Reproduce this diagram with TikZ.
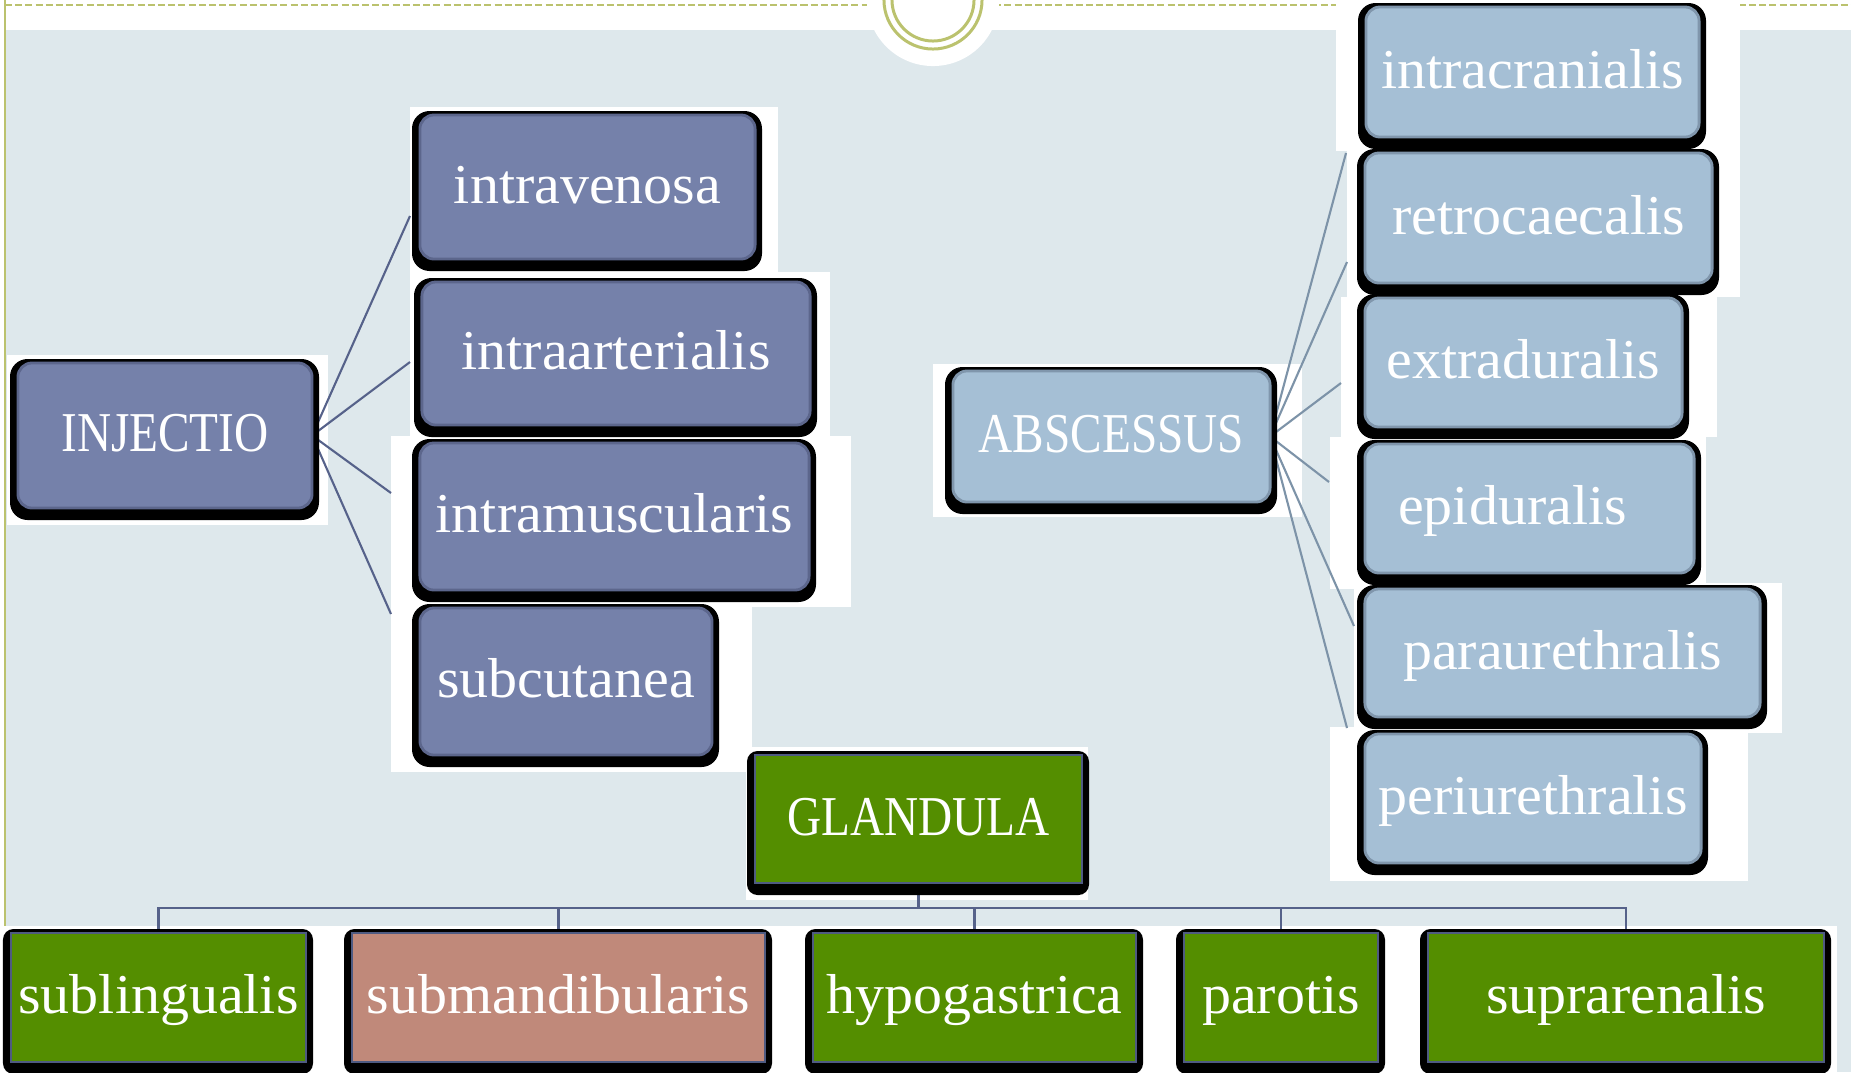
\documentclass[tikz,border=0pt]{standalone}
\usepackage{fontspec}
\setmainfont{Liberation Serif}[FakeStretch=1.03]
\newfontfamily\capsf{Liberation Serif}[FakeStretch=0.84]
\usetikzlibrary{calc}
\definecolor{bgblue}{RGB}{222,232,236}
\definecolor{olive}{RGB}{187,194,110}
\definecolor{slate}{RGB}{117,129,170}
\definecolor{slateedge}{RGB}{92,102,140}
\definecolor{pale}{RGB}{165,191,213}
\definecolor{paleedge}{RGB}{128,150,172}
\definecolor{leaf}{RGB}{84,142,0}
\definecolor{clay}{RGB}{192,137,122}
\definecolor{rim}{RGB}{79,91,130}
\definecolor{lineL}{RGB}{86,98,138}
\definecolor{lineR}{RGB}{125,147,168}
\pgfdeclarelayer{back}
\pgfdeclarelayer{wires}
\pgfsetlayers{back,wires,main}
\tikzset{
  boxtext/.style={inner sep=0pt, outer sep=0pt, text=white, anchor=center,
    font=\fontsize{16pt}{19pt}\selectfont, text height=9.1pt, text depth=0pt},
  slatebox/.style={boxtext, fill=slate, draw=slateedge, line width=0.8pt, rounded corners=4pt},
  palebox/.style={boxtext, fill=pale, draw=paleedge, line width=0.8pt, rounded corners=4pt},
  leafbox/.style={boxtext, fill=leaf, draw=rim, line width=0.6pt},
  claybox/.style={boxtext, fill=clay, draw=rim, line width=0.6pt},
  roundshadow/.style={fill=black, rounded corners=5pt},
  flatshadow/.style={fill=black, rounded corners=3pt},
  conL/.style={draw=lineL, line width=0.6pt},
  conR/.style={draw=lineR, line width=0.6pt},
  tree/.style={draw=lineL, line width=0.6pt},
  backdrop/.style={fill=white}
}
% name, box style, shadow style, x1, y1, x2, y2, text
\newcommand{\skbox}[8]{%
  \pgfmathsetmacro{\skw}{(#6-#4)/100}%
  \pgfmathsetmacro{\skh}{(#7-#5)/100}%
  \pgfmathsetmacro{\skx}{(#4+#6)/2}%
  \pgfmathsetmacro{\sky}{(#5+#7)/2}%
  \path[#3] ($(#4,#5)+(-8,-4)$) rectangle ($(#6,#7)+(7,12)$);
  \node[#2, minimum width=\skw cm, minimum height=\skh cm] (#1) at (\skx,\sky) {#8};
}
\begin{document}
\begin{tikzpicture}[x=0.01cm, y=-0.01cm]
\useasboundingbox (0,0) rectangle (1851,1072);

\begin{pgfonlayer}{back}
  % page background
  \fill[white] (0,0) rectangle (1851,1072);
  \fill[bgblue] (5,30) rectangle (1851,1072);
  % top dashed rule
  \draw[olive, line width=0.6pt, dash pattern=on 2pt off 0.9pt] (5,5) -- (1851,5);
  % circle ornament
  \fill[white] (933,0) circle[radius=0.66cm];
  \draw[olive, line width=0.85pt] (933,0) circle[radius=0.49cm];
  \draw[olive, line width=0.85pt] (933,0) circle[radius=0.41cm];
  % left rule
  \draw[olive, line width=0.6pt] (5,0) -- (5,926);
  % white backdrops
  \fill[backdrop] (7,355) rectangle (328,525);
  \fill[backdrop] (410,107) rectangle (778,272);
  \fill[backdrop] (410,272) rectangle (830,436);
  \fill[backdrop] (391,436) rectangle (851,607);
  \fill[backdrop] (391,602) rectangle (752,772);
  \fill[backdrop] (933,364) rectangle (1302,517);
  \fill[backdrop] (1336,0) rectangle (1740,151);
  \fill[backdrop] (1347,151) rectangle (1740,297);
  \fill[backdrop] (1341,297) rectangle (1717,437);
  \fill[backdrop] (1330,437) rectangle (1706,589);
  \fill[backdrop] (1354,583) rectangle (1782,733);
  \fill[backdrop] (1330,727) rectangle (1748,881);
  \fill[backdrop] (746,747) rectangle (1088,900);
  \fill[backdrop] (0,926) rectangle (1837,1072);
\end{pgfonlayer}

% boxes
\skbox{inj}{slatebox}{roundshadow}{18}{363}{312}{508}{\capsf INJECTIO}
\skbox{iv}{slatebox}{roundshadow}{420}{115}{755}{259}{intravenosa}
\skbox{ia}{slatebox}{roundshadow}{422}{282}{810}{425}{intraarterialis}
\skbox{im}{slatebox}{roundshadow}{420}{443}{809}{590}{intramuscularis}
\skbox{sc}{slatebox}{roundshadow}{420}{608}{712}{755}{subcutanea}

\skbox{abs}{palebox}{roundshadow}{953}{371}{1270}{502}{\capsf ABSCESSUS}
\skbox{icr}{palebox}{roundshadow}{1366}{7}{1699}{137}{intracranialis}
\skbox{rc}{palebox}{roundshadow}{1365}{153}{1712}{283}{retrocaecalis}
\skbox{ed}{palebox}{roundshadow}{1365}{298}{1682}{427}{extraduralis}
\skbox{ep}{palebox}{roundshadow}{1365}{444}{1694}{573}{epiduralis\kern0.34cm}
\skbox{pu}{palebox}{roundshadow}{1365}{589}{1760}{717}{paraurethralis}
\skbox{peri}{palebox}{roundshadow}{1365}{734}{1701}{863}{periurethralis}

\skbox{gl}{leafbox}{flatshadow}{755}{755}{1082}{883}{\capsf GLANDULA}
\skbox{sl}{leafbox}{flatshadow}{11}{933}{306}{1062}{sublingualis}
\skbox{sm}{claybox}{flatshadow}{352}{933}{765}{1062}{submandibularis}
\skbox{hy}{leafbox}{flatshadow}{813}{933}{1136}{1062}{hypogastrica}
\skbox{pa}{leafbox}{flatshadow}{1184}{933}{1378}{1062}{parotis}
\skbox{su}{leafbox}{flatshadow}{1428}{933}{1824}{1062}{suprarenalis}

% connector end points
\coordinate (e1) at (410,216);
\coordinate (e2) at (410,362);
\coordinate (e3) at (391,493);
\coordinate (e4) at (391,614);
\coordinate (f1) at (1346,153);
\coordinate (f2) at (1347,262);
\coordinate (f3) at (1341,383);
\coordinate (f4) at (1329,482);
\coordinate (f5) at (1354,626);
\coordinate (f6) at (1347,728);
\coordinate (bus) at (918.5,908);

\begin{pgfonlayer}{wires}
  \draw[conL] (inj.east) -- (e1);
  \draw[conL] (inj.east) -- (e2);
  \draw[conL] (inj.east) -- (e3);
  \draw[conL] (inj.east) -- (e4);
  \draw[conR] (abs.east) -- (f1);
  \draw[conR] (abs.east) -- (f2);
  \draw[conR] (abs.east) -- (f3);
  \draw[conR] (abs.east) -- (f4);
  \draw[conR] (abs.east) -- (f5);
  \draw[conR] (abs.east) -- (f6);
  \draw[tree] (gl.south) -- (bus) -| (sl.north);
  \draw[tree] (gl.south) -- (bus) -| (sm.north);
  \draw[tree] (gl.south) -- (bus) -| (hy.north);
  \draw[tree] (gl.south) -- (bus) -| (pa.north);
  \draw[tree] (gl.south) -- (bus) -| (su.north);
\end{pgfonlayer}
\end{tikzpicture}
\end{document}
